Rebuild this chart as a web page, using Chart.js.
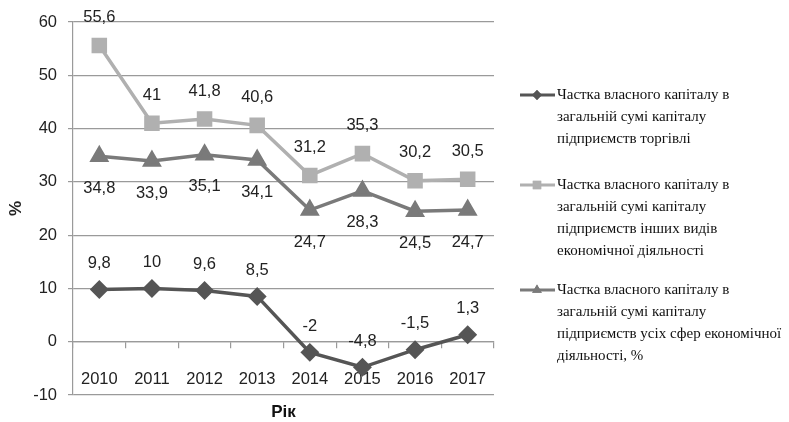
<!DOCTYPE html>
<html>
<head>
<meta charset="utf-8">
<script src="https://cdn.jsdelivr.net/npm/chart.js@4.4.0/dist/chart.umd.min.js"></script>
<style>
  html, body { margin: 0; padding: 0; background: #fff; }
  #wrap { width: 789px; height: 422px; position: relative; }
</style>
</head>
<body>
<div id="wrap"><canvas id="equityChart" width="789" height="422"></canvas></div>
<script>
// Data
const years = ['2010', '2011', '2012', '2013', '2014', '2015', '2016', '2017'];
const tradeShare = [9.8, 10, 9.6, 8.5, -2, -4.8, -1.5, 1.3];
const otherShare = [55.6, 41, 41.8, 40.6, 31.2, 35.3, 30.2, 30.5];
const allShare = [34.8, 33.9, 35.1, 34.1, 24.7, 28.3, 24.5, 24.7];
const yTicks = [-10, 0, 10, 20, 30, 40, 50, 60];

const tradeName = ['Частка власного капіталу в', 'загальній сумі капіталу', 'підприємств торгівлі'];
const otherName = ['Частка власного капіталу в', 'загальній сумі капіталу', 'підприємств інших видів', 'економічної діяльності'];
const allName = ['Частка власного капіталу в', 'загальній сумі капіталу', 'підприємств усіх сфер економічної', 'діяльності, %'];

const numFont = '"Liberation Sans", Arial, sans-serif';
const fmt = v => String(v).replace('.', ',');

// value labels above / below points
const valueLabels = {
    id: 'valueLabels',
    afterDatasetsDraw(chart) {
        const ctx = chart.ctx;
        ctx.save();
        ctx.font = '16.5px ' + numFont;
        ctx.fillStyle = '#222';
        ctx.textAlign = 'center';
        ctx.textBaseline = 'middle';
        chart.data.datasets.forEach((ds, i) => {
            const meta = chart.getDatasetMeta(i);
            meta.data.forEach((pt, j) => {
                ctx.fillText(fmt(ds.data[j]), pt.x, pt.y + ds.labelOffset);
            });
        });
        ctx.restore();
    }
};

// legend on the right with wrapped names
const sideLegend = {
    id: 'sideLegend',
    afterDraw(chart) {
        const ctx = chart.ctx;
        const tops = [95, 185, 290];
        ctx.save();
        chart.data.datasets.forEach((ds, i) => {
            const y = tops[i];
            ctx.strokeStyle = ds.borderColor;
            ctx.lineWidth = 3;
            ctx.beginPath();
            ctx.moveTo(520, y);
            ctx.lineTo(555, y);
            ctx.stroke();
            ctx.fillStyle = ds.borderColor;
            Chart.helpers.drawPoint(ctx, {pointStyle: ds.pointStyle, radius: ds.pointRadius * 0.7, borderWidth: 0}, 537, y);
            ctx.fill();
            ctx.fillStyle = '#111';
            ctx.font = '15px "Liberation Serif", serif';
            ctx.textAlign = 'left';
            ctx.textBaseline = 'middle';
            ds.nameLines.forEach((line, k) => {
                ctx.fillText(line, 557, y + k * 22);
            });
        });
        // x axis title
        ctx.fillStyle = '#111';
        ctx.font = 'bold 17px ' + numFont;
        ctx.textAlign = 'center';
        ctx.fillText('Рік', (chart.chartArea.left + chart.chartArea.right) / 2, 412);
        ctx.restore();
    }
};

new Chart(document.getElementById('equityChart'), {
    type: 'line',
    data: {
        labels: years,
        datasets: [{
            label: tradeName.join(' '),
            nameLines: tradeName,
            data: tradeShare,
            borderColor: '#555555',
            backgroundColor: '#555555',
            borderWidth: 3.5,
            pointStyle: 'rectRot',
            pointRadius: 7,
            labelOffset: -26
        }, {
            label: otherName.join(' '),
            nameLines: otherName,
            data: otherShare,
            borderColor: '#b0b0b0',
            backgroundColor: '#b0b0b0',
            borderWidth: 3.5,
            pointStyle: 'rect',
            pointRadius: 8.5,
            labelOffset: -28
        }, {
            label: allName.join(' '),
            nameLines: allName,
            data: allShare,
            borderColor: '#7a7a7a',
            backgroundColor: '#7a7a7a',
            borderWidth: 3.5,
            pointStyle: 'triangle',
            pointRadius: 8,
            labelOffset: 32
        }]
    },
    options: {
        responsive: false,
        animation: false,
        layout: { padding: { top: 22, right: 295, bottom: 27, left: 4 } },
        plugins: { legend: { display: false }, tooltip: { enabled: false } },
        elements: { line: { tension: 0 } },
        scales: {
            x: {
                position: { y: 0 },
                offset: true,
                grid: { offset: true, drawOnChartArea: false, drawTicks: true, tickLength: 6, color: '#9a9a9a', lineWidth: 1.2 },
                border: { color: '#9a9a9a', width: 1.2 },
                ticks: { color: '#222', font: { family: numFont, size: 16.5 }, padding: 22, maxRotation: 0 }
            },
            y: {
                min: -10,
                max: 60,
                afterBuildTicks: s => { s.ticks = yTicks.map(v => ({ value: v })); },
                afterFit: s => { s.width = 69; },
                grid: { color: '#9a9a9a', lineWidth: 1.2, tickLength: 5 },
                border: { color: '#9a9a9a', width: 1.2 },
                ticks: { color: '#222', font: { family: numFont, size: 16.5 }, padding: 11 },
                title: { display: true, text: '%', color: '#222', font: { family: numFont, size: 17, weight: 'bold' }, padding: { top: 2, bottom: 0 } }
            }
        }
    },
    plugins: [valueLabels, sideLegend]
});
</script>
</body>
</html>
